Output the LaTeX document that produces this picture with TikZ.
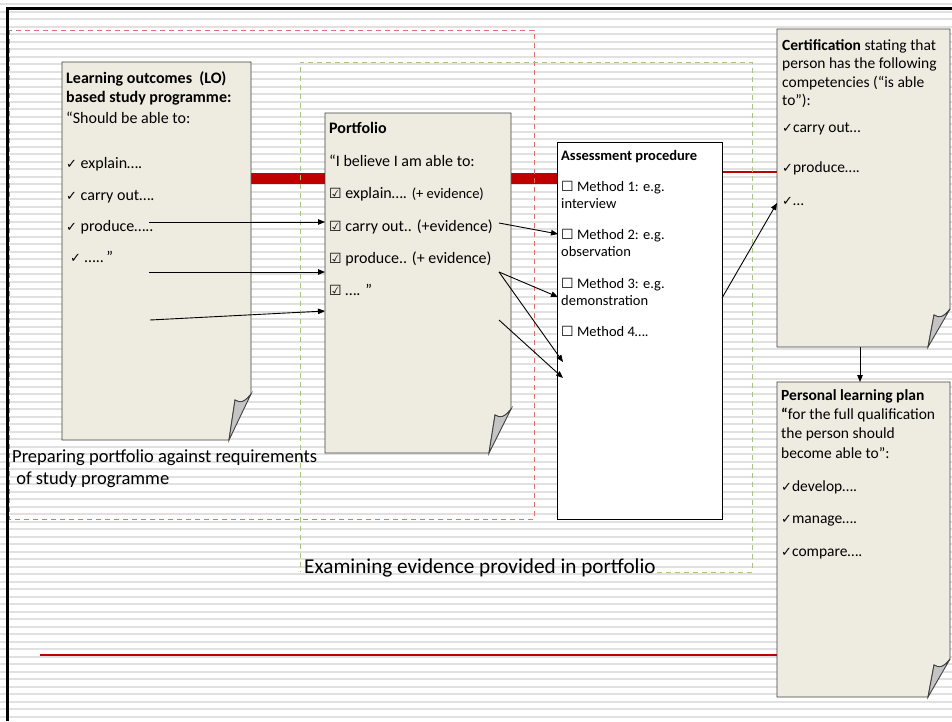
\documentclass[tikz,border=0pt]{standalone}
\usepackage{fontspec}
\setmainfont{Carlito}
\newfontfamily\symfont{DejaVu Sans}
\usetikzlibrary{arrows.meta}

\definecolor{notefill}{HTML}{EEECE1}
\definecolor{flapfill}{HTML}{C4C4C4}
\definecolor{barred}{HTML}{C00000}
\definecolor{dashred}{HTML}{E07070}
\definecolor{dashgreen}{HTML}{A9C47F}
\definecolor{stripecol}{HTML}{E1E1E1}

% small symbols taken from DejaVu Sans
\newcommand\tick{{\symfont\fontsize{13}{13}\selectfont ✓}}
\newcommand\tickbox{{\symfont\fontsize{14}{14}\selectfont ☑}}
\newcommand\openbox{{\symfont\fontsize{14}{14}\selectfont ☐}}

% note sheet with a curled lower right corner:
% #1 name, #2 x1, #3 y1, #4 x2, #5 y2, #6 curl width, #7 curl height
\newcommand\curlnote[7]{%
  \path[notebody] (#2,#3) -- (#4,#3) -- (#4,{#5-#7})
    .. controls ({#4-7},{#5-#7+9}) and ({#4-#6+11},{#5-#7+9}) .. ({#4-#6+6},{#5-#7+6})
    -- ({#4-#6},#5) -- (#2,#5) -- cycle;
  \path[noteflap] ({#4-#6},#5) -- ({#4-#6+6},{#5-#7+6})
    .. controls ({#4-#6+11},{#5-#7+9}) and ({#4-7},{#5-#7+9}) .. (#4,{#5-#7}) -- cycle;
  \coordinate (#1-nw) at (#2,#3);
  \coordinate (#1-se) at (#4,#5);
}

\tikzset{
  notebody/.style={fill=notefill, draw=black!75, line width=0.9pt},
  noteflap/.style={fill=flapfill, draw=black!75, line width=0.9pt},
  stripe/.style={draw=stripecol, line width=2pt},
  line/.style={anchor=base west, inner sep=0pt, font=\fontsize{16}{19}\selectfont},
  lineS/.style={anchor=base west, inner sep=0pt, font=\fontsize{14.5}{17}\selectfont},
  lineM/.style={anchor=base west, inner sep=0pt, font=\fontsize{15.5}{18}\selectfont},
  caption/.style={anchor=base west, inner sep=0pt, font=\fontsize{18.5}{22}\selectfont},
  link/.style={draw=black, line width=0.9pt, -{Triangle[length=7pt,width=5.5pt]}},
}

\begin{document}
\begin{tikzpicture}[x=1pt,y=-1pt]
\useasboundingbox (0,0) rectangle (952,721);

% striped background
\fill[white] (0,0) rectangle (952,721);
\foreach \k in {0,...,96} \draw[stripe] (0,{4+7.5*\k}) -- (952,{4+7.5*\k});

% thick red band joining the three first sheets
\coordinate (bandL) at (251,178);
\coordinate (bandR) at (557,178);
\draw[barred, line width=11pt] (bandL) -- (bandR);

% thin red lines
\coordinate (thinA) at (722,172);
\coordinate (thinB) at (777,172);
\draw[barred, line width=1.1pt] (thinA) -- (thinB);
\coordinate (baseA) at (40,655);
\coordinate (baseB) at (777,655);
\draw[barred, line width=1.3pt] (baseA) -- (baseB);

% dashed zones
\draw[dashred, line width=1pt, dash pattern=on 5pt off 4pt] (9,30) rectangle (534,519);
\draw[dashgreen, line width=1pt, dash pattern=on 5pt off 4pt]
  (657,572) -- (752,572) -- (752,62) -- (300,62) -- (300,572);

% sheets
\curlnote{lo}{62}{62}{251}{440}{22}{46}
\curlnote{pf}{325}{113}{511}{453}{22}{44}
\draw[fill=white, draw=black, line width=0.9pt] (557,142) rectangle (722,519);
\coordinate (as-nw) at (557,142);
\curlnote{cert}{777}{29}{950}{347}{22}{38}
\curlnote{plp}{777}{382}{950}{697}{22}{38}

% learning outcomes sheet
\node[line, font=\bfseries\fontsize{16}{19}\selectfont] (lo1) at (66,83) {Learning outcomes\ \ (LO)};
\node[line, font=\bfseries\fontsize{16}{19}\selectfont] (lo2) at (66,102) {based study programme:};
\node[line] (lo3) at (66,123) {“Should be able to:};
\node[line] (lo4) at (66,168) {\tick\ explain….};
\node[line] (lo5) at (66,200) {\tick\ carry out….};
\node[line] (lo6) at (66,231) {\tick\ produce…..};
\node[line] (lo7) at (70,262) {\tick\ …..\,”};

% portfolio sheet
\node[line, font=\bfseries\fontsize{16}{19}\selectfont] (pf1) at (329,133) {Portfolio};
\node[line] (pf2) at (329,166) {“I believe I am able to:};
\node[line] (pf3) at (329,198) {\tickbox\ explain…. {\fontsize{14.5}{16}\selectfont (+ evidence)}};
\node[line] (pf4) at (329,231) {\tickbox\ carry out.. (+evidence)};
\node[line] (pf5) at (329,263) {\tickbox\ produce.. (+ evidence)};
\node[line] (pf6) at (329,295) {\tickbox\ …. ”};

% assessment procedure
\node[lineS, font=\bfseries\fontsize{14.5}{17}\selectfont] (as1) at (561,160) {Assessment procedure};
\node[lineS] (as2) at (561,191) {\openbox\ Method 1: e.g.};
\node[lineS] (as2b) at (561,208) {interview};
\node[lineS] (as3) at (561,239) {\openbox\ Method 2: e.g.};
\node[lineS] (as3b) at (561,256) {observation};
\node[lineS] (as4) at (561,288) {\openbox\ Method 3: e.g.};
\node[lineS] (as4b) at (561,305) {demonstration};
\node[lineS] (as5) at (561,336) {\openbox\ Method 4….};

% certification
\node[lineM] (ce1) at (782,50) {\textbf{Certification} stating that};
\node[lineM] (ce2) at (782,68) {person has the following};
\node[lineM] (ce3) at (782,87) {competencies (“is able};
\node[lineM] (ce4) at (782,105) {to”):};
\node[lineM] (ce5) at (782,132) {\tick carry out…};
\node[lineM] (ce6) at (782,172) {\tick produce….};
\node[lineM] (ce7) at (782,205) {\tick …};

% personal learning plan
\node[lineM, font=\bfseries\fontsize{15.5}{18}\selectfont] (pl1) at (781,400) {Personal learning plan};
\node[lineM] (pl2) at (781,419) {\textbf{“}for the full qualification};
\node[lineM] (pl3) at (781,438) {the person should};
\node[lineM] (pl4) at (781,458) {become able to”:};
\node[lineM] (pl5) at (781,491) {\tick develop….};
\node[lineM] (pl6) at (781,523) {\tick manage….};
\node[lineM] (pl7) at (781,556) {\tick compare….};

% zone captions
\node[caption] (capA) at (12,462) {Preparing portfolio against requirements};
\node[caption] (capB) at (12,484) {\ of study programme};
\node[caption, font=\fontsize{21.2}{25}\selectfont] (capC) at (304,573) {Examining evidence provided in portfolio};

% arrow end points
\coordinate (loA) at (149,222);
\coordinate (loB) at (149,272);
\coordinate (loC) at (150,320);
\coordinate (pfA) at (325,222);
\coordinate (pfB) at (325,272);
\coordinate (pfC) at (325,311);
\coordinate (pfOutA) at (499,223);
\coordinate (pfOutB) at (499,272);
\coordinate (pfOutC) at (499,320);
\coordinate (asInA) at (558,234);
\coordinate (asInB) at (558,297);
\coordinate (asInC) at (563,362);
\coordinate (asInD) at (563,378);
\coordinate (asOut) at (722,298);
\coordinate (ceIn) at (777,203);
\coordinate (ceOut) at (860,347);
\coordinate (plIn) at (860,382);

% connectors
\draw[link] (loA) -- (pfA);
\draw[link] (loB) -- (pfB);
\draw[link] (loC) -- (pfC);
\draw[link] (pfOutA) -- (asInA);
\draw[link] (pfOutB) -- (asInB);
\draw[link] (pfOutB) -- (asInC);
\draw[link] (pfOutC) -- (asInD);
\draw[link] (asOut) -- (ceIn);
\draw[link] (ceOut) -- (plIn);

% slide frame
\draw[black, line width=3pt] (7,721) -- (7,8) -- (952,8);
\end{tikzpicture}
\end{document}
